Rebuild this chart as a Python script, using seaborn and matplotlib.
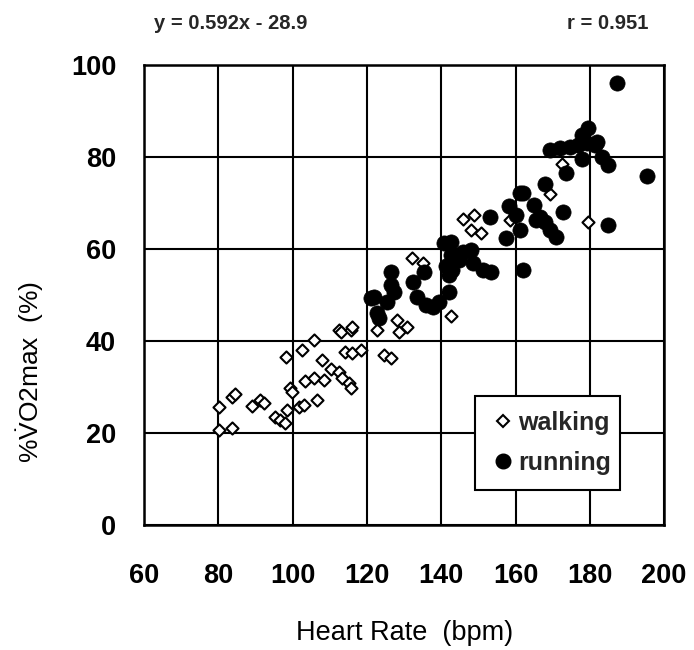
import matplotlib
matplotlib.use("Agg")
import matplotlib.pyplot as plt
from matplotlib.lines import Line2D
import seaborn as sns
import pandas as pd

# Heart rate (bpm) and %VO2max for walking trials
walk_hr = [80.2, 80.2, 83.6, 84.5, 83.6, 89.0, 91.3, 92.2, 95.3, 96.7, 98.0, 98.5,
           99.4, 99.8, 98.2, 101.6, 103.0, 102.5, 105.7, 103.4, 105.7, 106.6, 108.4,
           107.9, 110.2, 112.4, 112.4, 113.3, 115.1, 115.6, 112.9, 115.6, 116.0,
           114.2, 116.0, 118.3, 122.8, 128.2, 130.9, 128.7, 124.6, 126.4, 132.2,
           135.0, 142.6, 145.8, 148.9, 148.0, 150.7, 158.4, 169.4, 172.4, 179.6]
walk_vo2 = [25.6, 20.7, 27.9, 28.5, 21.0, 25.9, 27.2, 26.5, 23.4, 22.8, 22.1, 25.0,
            29.8, 29.0, 36.5, 25.7, 26.1, 38.0, 40.2, 31.2, 31.9, 27.2, 31.5,
            35.9, 34.0, 42.4, 33.3, 31.9, 30.8, 29.7, 42.0, 42.4, 43.1,
            37.7, 37.3, 38.0, 42.4, 44.6, 43.1, 42.0, 37.0, 36.2, 58.0,
            56.9, 45.5, 66.5, 67.4, 64.1, 63.4, 66.3, 71.9, 78.5, 65.9]

# Heart rate (bpm) and %VO2max for running trials
run_hr = [121.0, 121.9, 122.8, 123.3, 126.4, 126.4, 127.3, 125.5, 132.3, 133.6,
          135.9, 137.7, 139.5, 135.4, 140.8, 142.6, 141.3, 142.2, 142.2, 145.8,
          148.0, 148.5, 151.2, 153.4, 142.6, 144.9, 143.0, 153.0, 162.0, 157.5,
          161.1, 158.2, 160.0, 165.1, 165.6, 167.8, 171.0, 172.8, 161.1, 167.8,
          173.5, 177.8, 183.2, 185.0, 195.3, 185.0, 169.2, 171.9, 174.6, 176.9,
          179.1, 181.4, 179.6, 177.8, 181.8, 187.2, 169.2, 166.5, 162.0]
run_vo2 = [49.3, 49.6, 46.0, 44.9, 55.1, 52.2, 50.7, 48.5, 52.9, 49.6,
           47.8, 47.5, 48.5, 55.1, 61.2, 61.6, 56.2, 54.3, 50.7, 59.4,
           59.8, 56.9, 55.4, 55.1, 58.7, 57.6, 55.4, 67.0, 55.4, 62.3,
           72.1, 69.4, 67.5, 69.6, 66.3, 65.9, 62.7, 68.1, 64.1, 74.1,
           76.6, 79.5, 80.1, 78.3, 75.8, 65.2, 81.5, 81.9, 82.2, 82.6,
           83.0, 82.6, 86.2, 84.8, 83.3, 96.0, 64.1, 67.0, 72.1]

x_ticks = [60, 80, 100, 120, 140, 160, 180, 200]
y_ticks = [0, 20, 40, 60, 80, 100]
fit_text = "y = 0.592x - 28.9"
r_text = "r = 0.951"

walk = pd.DataFrame({"hr": walk_hr, "vo2": walk_vo2})
run = pd.DataFrame({"hr": run_hr, "vo2": run_vo2})

sns.set_theme(style="white")
plt.rcParams["font.family"] = ["Liberation Sans", "DejaVu Sans"]
plt.rcParams["mathtext.fontset"] = "custom"
plt.rcParams["mathtext.rm"] = "Liberation Sans"
plt.rcParams["mathtext.it"] = "Liberation Sans:italic"
plt.rcParams["mathtext.bf"] = "Liberation Sans:bold"

fig = plt.figure(figsize=(6.94, 6.5), dpi=100)
ax = fig.add_axes([0.2075, 0.1923, 0.7495, 0.7077])

sns.scatterplot(data=walk, x="hr", y="vo2", ax=ax, marker="D", s=38,
                facecolor="white", edgecolor="black", linewidth=1.5, zorder=3)
sns.scatterplot(data=run, x="hr", y="vo2", ax=ax, marker="o", s=120,
                color="black", edgecolor="black", linewidth=0.5, zorder=4)

ax.set_xlim(60, 200)
ax.set_ylim(0, 100)
ax.set_xticks(x_ticks)
ax.set_yticks(y_ticks)
ax.grid(True, color="black", linewidth=1.5)
ax.set_axisbelow(True)
for sp in ax.spines.values():
    sp.set_color("black")
    sp.set_linewidth(1.8)
ax.tick_params(axis="both", length=0, labelsize=19.5, colors="black")
ax.tick_params(axis="x", pad=27)
ax.tick_params(axis="y", pad=20)
for lab in ax.get_xticklabels() + ax.get_yticklabels():
    lab.set_fontweight("bold")

ax.set_xlabel("Heart Rate  (bpm)", fontsize=19.5, color="black")
ax.set_ylabel(r"%$\dot{\mathrm{V}}$O2max  (%)", fontsize=19, color="black")
ax.xaxis.label.set_verticalalignment("center")
ax.yaxis.label.set_verticalalignment("center")
ax.yaxis.label.set_horizontalalignment("center")
ax.xaxis.set_label_coords(0.5, -0.235)
ax.yaxis.set_label_coords(-0.219, 0.333)

ax.text(0.02, 1.07, fit_text, transform=ax.transAxes, fontsize=14.5,
        fontweight="bold", ha="left", va="bottom")
ax.text(0.97, 1.07, r_text, transform=ax.transAxes, fontsize=14.5,
        fontweight="bold", ha="right", va="bottom")

handles = [
    Line2D([], [], linestyle="none", marker="D", markersize=6.5,
           markerfacecolor="white", markeredgecolor="black", markeredgewidth=1.5),
    Line2D([], [], linestyle="none", marker="o", markersize=10.5,
           markerfacecolor="black", markeredgecolor="black"),
]
leg = ax.legend(handles, ["walking", "running"], loc="lower left",
                bbox_to_anchor=(0.637, 0.076, 0.278, 0.2), mode="expand",
                frameon=True, fancybox=False, framealpha=1, edgecolor="black",
                prop={"weight": "bold", "size": 18}, handletextpad=0.1,
                handlelength=1.0, borderaxespad=0, labelspacing=0.65,
                borderpad=0.6)
leg.get_frame().set_linewidth(1.5)

fig.savefig("out.png", dpi=100, facecolor="white")
